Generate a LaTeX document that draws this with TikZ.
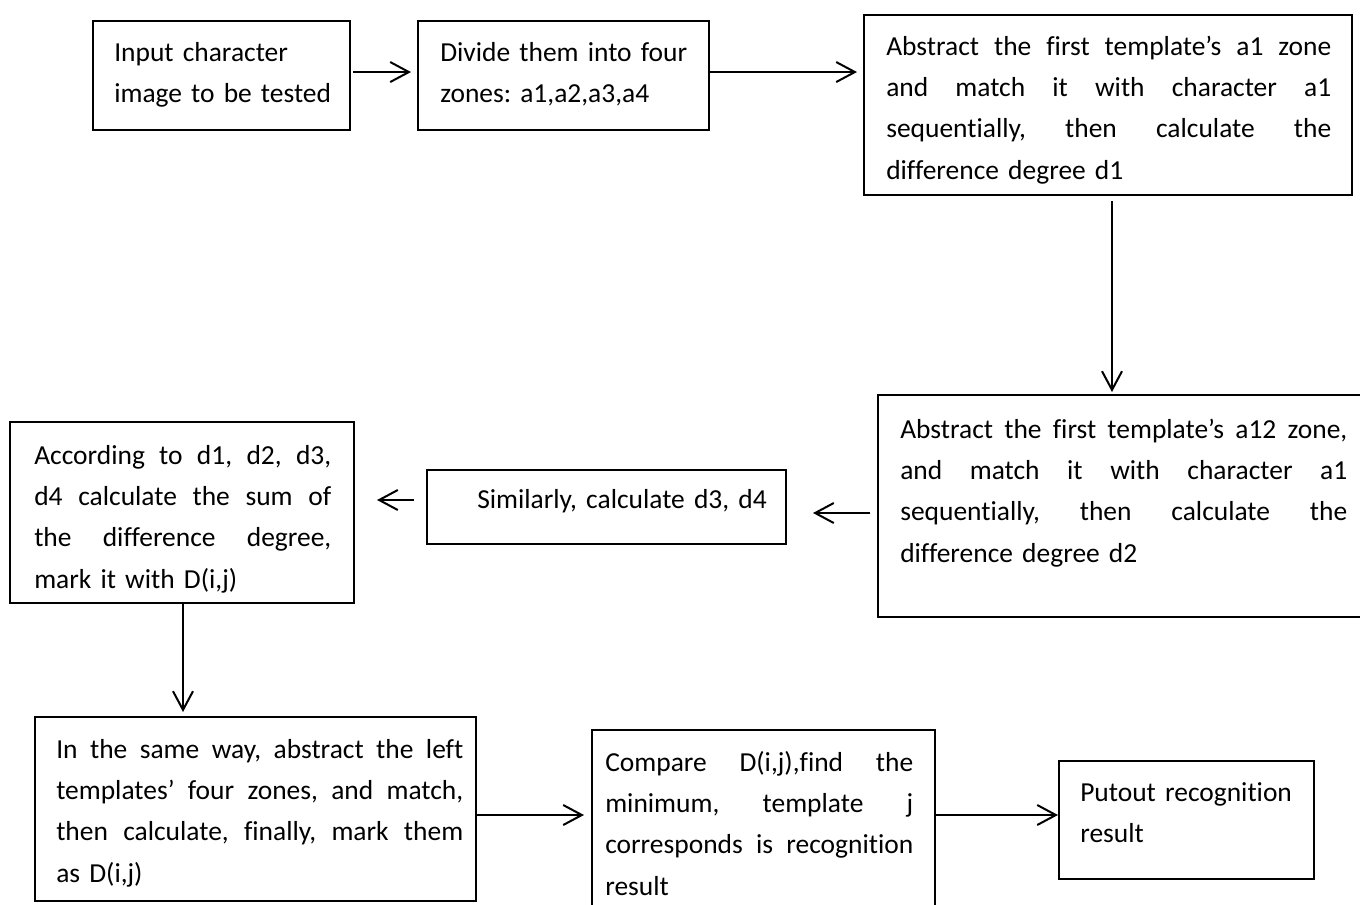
\documentclass[tikz,border=0pt]{standalone}
\usepackage{fontspec}
\setmainfont{Carlito}[Ligatures=NoCommon]
\usetikzlibrary{arrows.meta,calc}
\newcommand{\jline}[1]{{\spaceskip=0pt\relax\xspaceskip=0pt\relax\makebox[\linewidth][s]{#1}}}
\begin{document}
\begin{tikzpicture}[x=0.75pt,y=-0.75pt,
  box/.style={draw=black,line width=1.5pt,rectangle,inner sep=0pt,fill=none},
  txt/.style={anchor=base west,inner sep=0pt,align=left,
    font=\fontsize{20.6pt}{31.1pt}\selectfont\frenchspacing},
  arr/.style={line width=1.5pt,-{Straight Barb[length=14pt,width=15pt,line width=1.5pt]}}]
\useasboundingbox[fill=white] (0,0) rectangle (1360,904);
% boxes
\node[box,minimum width=192.75pt,minimum height=81.75pt] (b1) at (221.5,75.5) {};
\node[box,minimum width=218.25pt,minimum height=81.75pt] (b2) at (563.5,75.5) {};
\node[box,minimum width=366pt,minimum height=135pt] (b3) at (1108,105) {};
\node[box,minimum width=363pt,minimum height=166.5pt] (b4) at (1120,506) {};
\node[box,minimum width=269.25pt,minimum height=55.5pt] (b5) at (606.5,507) {};
\node[box,minimum width=258pt,minimum height=135.75pt] (b6) at (182,512.5) {};
\node[box,minimum width=330.75pt,minimum height=138pt] (b7) at (255.5,809) {};
\node[box,minimum width=257.25pt,minimum height=135pt] (b8) at (763.5,820) {};
\node[box,minimum width=191.25pt,minimum height=88.5pt] (b9) at (1186.5,820) {};
% texts
\node[txt,text width=180pt] (t1) at (114,61) {Input character\\image to be tested};
\node[txt,text width=200pt] (t2) at (440,61) {Divide them into four\\zones: a1,a2,a3,a4};
\node[txt,text width=333.75pt] (t3) at (886,55) {\jline{Abstract the first template’s a1 zone}\\\jline{and match it with character a1}\\\jline{sequentially, then calculate the}\\difference degree d1};
\node[txt,text width=335.25pt] (t4) at (900,438) {\jline{Abstract the first template’s a12 zone,}\\\jline{and match it with character a1}\\\jline{sequentially, then calculate the}\\difference degree d2};
\node[txt,text width=240pt] (t5) at (477,508) {Similarly, calculate d3, d4};
\node[txt,text width=222.75pt] (t6) at (34,464) {\jline{According to d1, d2, d3,}\\\jline{d4 calculate the sum of}\\\jline{the difference degree,}\\mark it with D(i,j)};
\node[txt,text width=305.25pt] (t7) at (56,758) {\jline{In the same way, abstract the left}\\\jline{templates’ four zones, and match,}\\\jline{then calculate, finally, mark them}\\as D(i,j)};
\node[txt,text width=231pt] (t8) at (605,771) {\jline{Compare D(i,j),find the}\\\jline{minimum, template j}\\\jline{corresponds is recognition}\\result};
\node[txt,text width=180pt] (t9) at (1080,801) {Putout recognition\\result};
% connectors
\coordinate (c1) at ([yshift=2.6pt]b1.east);
\coordinate (c2) at ([yshift=2.6pt]b2.east);
\coordinate (c3) at ([xshift=3pt]b3.south);
\coordinate (c4) at ([yshift=-4.5pt]b5.east);
\coordinate (c5) at ([yshift=5.25pt]b5.west);
\coordinate (c6) at ([xshift=0.75pt]b6.south);
\coordinate (c7) at ([yshift=-4.5pt]b7.east);
\coordinate (c8) at ([yshift=3.75pt]b9.west);
\draw[arr,shorten <=1.5pt,shorten >=4.5pt] (c1) -- (c1 -| b2.west);
\draw[arr,shorten >=4.5pt] (c2) -- (c2 -| b3.west);
\draw[arr,shorten <=3.75pt,shorten >=1.5pt] (c3) -- (c3 |- b4.north);
\draw[arr,shorten <=5.25pt,shorten >=19.5pt] (c4 -| b4.west) -- (c4);
\draw[arr,shorten <=9pt,shorten >=16.5pt] (c5) -- (c5 -| b6.east);
\draw[arr,shorten >=3pt] (c6) -- (c6 |- b7.north);
\draw[arr,shorten >=5.25pt] (c7) -- (c7 -| b8.west);
\draw[arr] (c8 -| b8.east) -- (c8);
\end{tikzpicture}
\end{document}
